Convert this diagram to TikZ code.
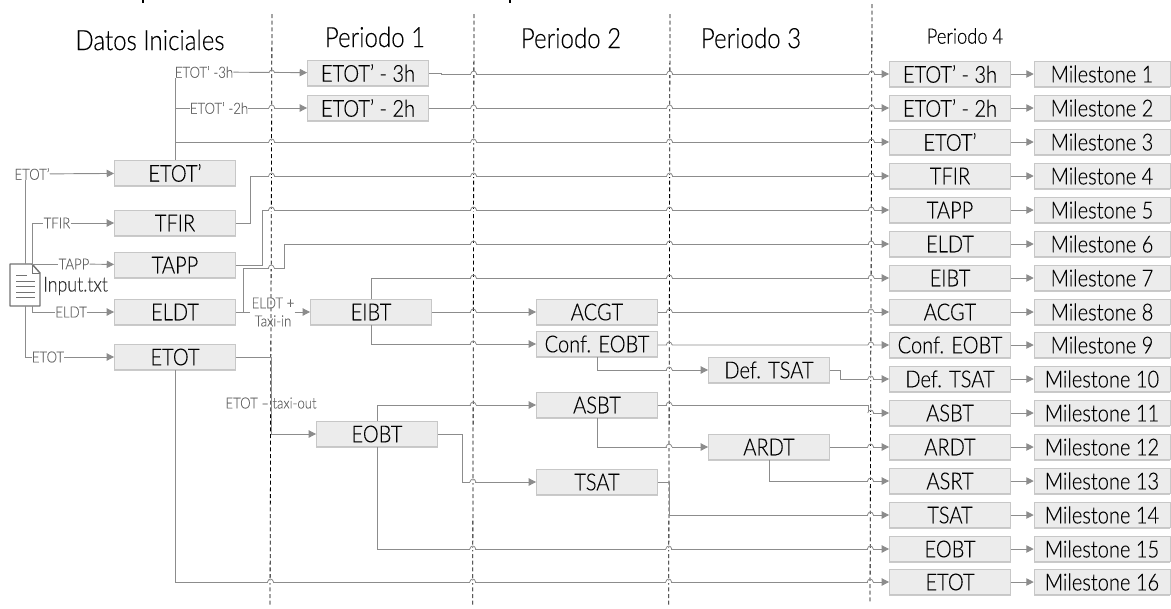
\documentclass[tikz,border=0pt]{standalone}
\usepackage{fontspec}
\setmainfont{Lato}[UprightFont=* Light, FakeStretch=0.86, FakeBold=0.15]
\usetikzlibrary{arrows.meta}
\usetikzlibrary{shadows}

\definecolor{linegray}{RGB}{140,140,140}
\definecolor{boxgray}{RGB}{236,236,236}

\tikzset{
  databox/.style={rectangle, draw=black!22, fill=boxgray, minimum width=91pt, minimum height=19pt, inner sep=0pt, font=\fontsize{17.5}{19}\selectfont, drop shadow={shadow xshift=0pt, shadow yshift=-1.2pt, fill=black!35, opacity=.6}},
  inlabel/.style={inner sep=0pt, text=black!60, font=\fontsize{11.5}{12.5}\selectfont, align=center},
  conn/.style={draw=linegray, line width=0.7pt},
  arr/.style={conn, -{Triangle[length=5.5pt, width=5.5pt]}},
  title/.style={inner sep=0pt, font=\fontsize{21}{23}\selectfont}
}

\begin{document}
\begin{tikzpicture}[x=0.75pt, y=-0.75pt]

        \useasboundingbox (0,0) rectangle (1171,608);

        % fases
        \draw[densely dashed, line width=0.6pt] (272,14) -- (270,606);
        \draw[densely dashed, line width=0.6pt] (474,14) -- (472.7,607);
        \draw[densely dashed, line width=0.6pt] (670,14) -- (668.7,607);
        \draw[densely dashed, line width=0.6pt] (872,4) -- (870,603);

        \node[title] (tini) at (150,40) {Datos Iniciales};
        \node[title] (tp1) at (375,37) {Periodo 1};
        \node[title] (tp2) at (571,38) {Periodo 2};
        \node[title] (tp3) at (751,38) {Periodo 3};
        \node[inner sep=0pt, font=\fontsize{16}{18}\selectfont] (tp4) at (965,36) {Periodo 4};

        % columna final
        \foreach \n/\txt/\y in {1/ETOT' - 3h/74,2/ETOT' - 2h/108,3/ETOT'/142,4/TFIR/176,5/TAPP/210,6/ELDT/244,7/EIBT/278,8/ACGT/312,9/Conf. EOBT/345,10/Def. TSAT/379,11/ASBT/413,12/ARDT/447,13/ASRT/481,14/TSAT/515,15/EOBT/549,16/ETOT/582} {
          \node[databox] (f\n) at (950,\y) {\txt};
          \node[databox, minimum width=102pt] (m\n) at (1102,\y) {Milestone \n};
          \draw[arr] (f\n) -- (m\n);
        }

        % datos iniciales
        \node[databox] (etotp) at (175,173) {ETOT'};
        \node[databox] (tfir) at (175,223) {TFIR};
        \node[databox] (tapp) at (175,265) {TAPP};
        \node[databox] (eldt) at (175,312) {ELDT};
        \node[databox] (etot) at (175,357) {ETOT};

        % periodo 1
        \node[databox] (p3h) at (368,73) {ETOT' - 3h};
        \node[databox] (p2h) at (368,108) {ETOT' - 2h};
        \node[databox] (eibt) at (371,312) {EIBT};
        \node[databox] (eobt) at (377,434) {EOBT};

        % periodo 2
        \node[databox] (acgt) at (597,312) {ACGT};
        \node[databox] (conf) at (597,344) {Conf. EOBT};
        \node[databox] (asbt) at (597,405) {ASBT};
        \node[databox] (tsat) at (597,482) {TSAT};

        % periodo 3
        \node[databox] (deft) at (769,370) {Def. TSAT};
        \node[databox] (ardt) at (769,447) {ARDT};

        % fichero de entrada
        \coordinate (intop) at (25,264);
        \coordinate (intopb) at (32,264);
        \coordinate (inbot) at (25,306);
        \coordinate (inbotb) at (32,306);
        \draw[black!55, line width=1.1pt, line join=round] (10,264) -- (32,264) -- (40,273) -- (40,306) -- (10,306) -- cycle;
        \draw[black!55, line width=0.6pt] (32,264) -- (32,273) -- (40,273);
        \draw[black!55, line width=0.5pt] (16,275) -- (27,275);
        \foreach \y in {281,286,292,297} {
          \draw[black!55, line width=0.5pt] (16,\y) -- (35,\y);
        }
        \node[inner sep=0pt, font=\fontsize{15.5}{17}\selectfont, text=black!80, anchor=west] (inputlbl) at (43,286) {Input.txt};

        % etiquetas
        \node[inlabel] (letotp) at (32,174) {ETOT'};
        \node[inlabel] (ltfir) at (57,223) {TFIR};
        \node[inlabel] (ltapp) at (74,264) {TAPP};
        \node[inlabel] (leldt) at (71,312) {ELDT};
        \node[inlabel] (letot) at (48,357) {ETOT};
        \node[inlabel] (l3h) at (204,72) {ETOT' -3h};
        \node[inlabel] (l2h) at (219,108) {ETOT' -2h};
        \node[inlabel] (ltaxin) at (273,312) {ELDT +\\[1pt]Taxi-in};
        \node[inlabel] (ltaxout) at (271,403) {ETOT -- taxi-out};

        % entradas
        \draw[arr] (letotp) -- (etotp);
        \draw[conn] (letotp.south -| intop) -- (intop);
        \draw[conn] (intopb) |- (ltfir);
        \draw[arr] (ltfir) -- (tfir);
        \draw[conn] (intopb) -- (ltapp);
        \draw[arr] (ltapp) -- (tapp);
        \draw[conn] (inbotb) |- (leldt);
        \draw[arr] (leldt) -- (eldt);
        \draw[conn] (inbot) |- (letot);
        \draw[arr] (letot) -- (etot);

        % salidas de datos iniciales
        \draw[conn] (etotp.north) -- (l3h.south -| etotp);
        \draw[arr] (l3h) -- (p3h);
        \draw[conn] (175,108) -- (l2h);
        \draw[arr] (l2h) -- (p2h);
        \draw[arr] (175,142) -- (f3);
        \draw[arr] (tfir) -- (250,223) |- (f4);
        \draw[arr] (tapp) -- (262,265) |- (f5);
        \draw[conn] (eldt) -- (250,312);
        \draw[arr] (243,312) |- (284,268) |- (f6);
        \draw[arr] (ltaxin) -- (eibt);
        \draw[arr] (etot) -- (271,357) |- (eobt);
        \draw[arr] (etot) |- (f16);

        % periodo 1
        \draw[arr] (p3h) -- (441,73) |- (f1);
        \draw[arr] (p2h) -- (f2);
        \draw[arr] (eibt) -- (acgt);
        \draw[arr] (eibt.north) |- (f7);
        \draw[arr] (eibt.south) |- (conf);
        \draw[arr] (eobt) -- (462,434) |- (tsat);
        \draw[arr] (eobt.north) |- (asbt);
        \draw[arr] (eobt.south) |- (f15);

        % periodo 2
        \draw[arr] (acgt) -- (f8);
        \draw[arr] (conf) -- (658,345) -- (f9);
        \draw[arr] (conf.south) |- (deft);
        \draw[arr] (asbt) -- (868,405) |- (f11);
        \draw[arr] (asbt.south) |- (ardt);
        \draw[arr] (tsat) -- (669,482) |- (f14);

        % periodo 3
        \draw[arr] (deft) -- (840,370) |- (f10);
        \draw[arr] (ardt) -- (f12);
        \draw[arr] (ardt.south) |- (f13);

        % saltos sobre las lineas de fase
        \foreach \x/\y in {271.8/73,271.8/108,271.7/142,271.6/176,271.5/210,271.3/268,
          473.7/74,473.6/108,473.6/142,473.6/176,473.5/210,473.5/244,473.4/278,473.3/312,473.2/344,473.1/405,472.9/482,472.8/549,472.7/582,
          669.7/74,669.6/108,669.6/142,669.6/176,669.5/210,669.5/244,669.4/278,669.3/312,669.2/345,669.2/370,669.1/405,669.0/447,668.8/549,668.7/582,
          871.7/74,871.6/108,871.5/142,871.4/176,871.3/210,871.2/244,871.1/278,871.0/312,870.9/345,870.8/379,870.7/413,870.6/447,870.5/481,870.4/515,870.3/549,870.2/582,
          270.5/582} {
          \draw[white, line width=1pt] (\x-2.5,\y) -- (\x+2.5,\y);
          \draw[linegray, line width=0.6pt] (\x-3,\y) .. controls (\x-2,\y-4) and (\x+2,\y-4) .. (\x+3,\y);
        }

        % restos del titulo cortado
        \draw[line width=1pt] (143,0) -- (143,3);
        \draw[line width=1pt] (510,0) -- (510,3);

      \end{tikzpicture}
\end{document}
